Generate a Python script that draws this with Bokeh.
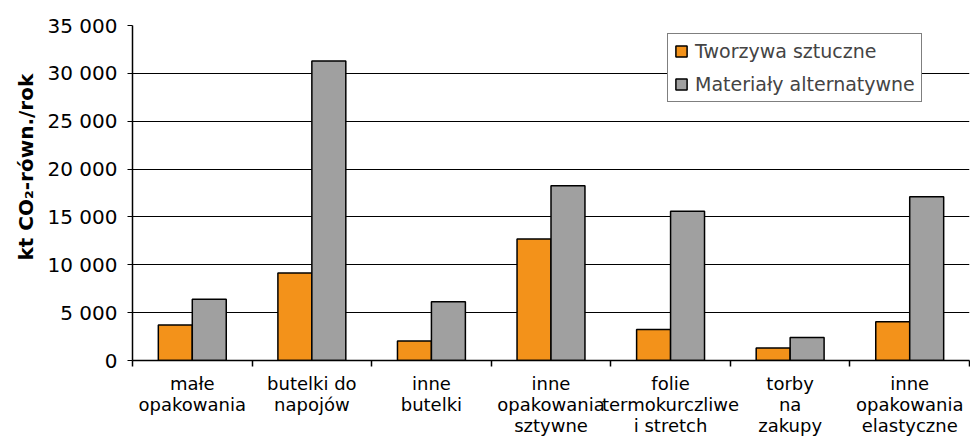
import numpy as np
from bokeh.plotting import figure
from bokeh.models import (Range1d, FixedTicker, ColumnDataSource, Legend, LegendItem, Title)
from bokeh.embed import file_html
from bokeh.resources import INLINE

# ---- data ----
categories = ["małe\nopakowania", "butelki do\nnapojów", "inne\nbutelki",
              "inne\nopakowania\nsztywne", "folie\ntermokurczliwe\ni stretch",
              "torby\nna\nzakupy", "inne\nopakowania\nelastyczne"]
plastics = [3700, 9150, 2050, 12700, 3250, 1300, 4050]
alternatives = [6400, 31300, 6150, 18250, 15600, 2400, 17100]
series_names = ["Tworzywa sztuczne", "Materiały alternatywne"]
y_ticks = [0, 5000, 10000, 15000, 20000, 25000, 30000, 35000]
y_tick_labels = ["0", "5 000", "10 000", "15 000", "20 000", "25 000", "30 000", "35 000"]
y_title = "kt CO₂-równ./rok"

FONT = "DejaVu Sans"
ORANGE = "#F3921A"
GRAY = "#A0A0A0"

n = len(categories)
centers = np.arange(n) + 0.5
bar_w = 0.284

src = ColumnDataSource(dict(
    xo=centers - bar_w / 2, xg=centers + bar_w / 2,
    plastics=plastics, alternatives=alternatives))

p = figure(width=970, height=438, output_backend="svg", toolbar_location=None,
           x_range=Range1d(0, n), y_range=Range1d(0, 35000),
           min_border_left=132, min_border_right=1, min_border_top=25,
           min_border_bottom=78)
p.outline_line_color = None
p.background_fill_color = "white"
p.border_fill_color = "white"

r1 = p.vbar(x="xo", top="plastics", width=bar_w, source=src,
            fill_color=ORANGE, line_color="black", line_width=1.5)
r2 = p.vbar(x="xg", top="alternatives", width=bar_w, source=src,
            fill_color=GRAY, line_color="black", line_width=1.5)

# y axis
p.yaxis.ticker = FixedTicker(ticks=y_ticks)
p.yaxis.major_label_overrides = {t: l for t, l in zip(y_ticks, y_tick_labels)}
p.yaxis.major_label_text_font = FONT
p.yaxis.major_label_text_font_size = "20px"
p.yaxis.major_label_text_color = "black"
p.yaxis.major_tick_out = 5
p.yaxis.major_tick_in = 0
p.yaxis.minor_tick_out = 0
p.yaxis.minor_tick_in = 0
p.yaxis.major_label_standoff = 10
p.yaxis.axis_line_color = "black"
p.yaxis.axis_line_width = 1.5
p.yaxis.major_tick_line_color = "black"

# x axis
p.xaxis.ticker = FixedTicker(ticks=list(centers), minor_ticks=list(range(n + 1)))
p.xaxis.major_label_overrides = {float(c): lab for c, lab in zip(centers, categories)}
p.xaxis.major_label_text_font = FONT
p.xaxis.major_label_text_font_size = "18px"
p.xaxis.major_label_text_line_height = 1.0
p.xaxis.major_label_text_color = "black"
p.xaxis.major_tick_out = 0
p.xaxis.major_tick_in = 0
p.xaxis.minor_tick_out = 6
p.xaxis.minor_tick_in = 0
p.xaxis.minor_tick_line_color = "black"
p.xaxis.minor_tick_line_width = 1.5
p.xaxis.major_label_standoff = 6
p.xaxis.axis_line_color = "black"
p.xaxis.axis_line_width = 1.5

# grid
p.xgrid.grid_line_color = None
p.ygrid.ticker = FixedTicker(ticks=y_ticks)
p.ygrid.grid_line_color = "black"
p.ygrid.grid_line_width = 1.2

# y title (vertical, left side)
ttl = Title(text=y_title, align="left", offset=100, vertical_align="middle",
            text_font=FONT, text_font_style="bold", text_font_size="20px",
            text_color="black", standoff=12)
p.add_layout(ttl, "left")

legend = Legend(items=[LegendItem(label=series_names[0], renderers=[r1]),
                       LegendItem(label=series_names[1], renderers=[r2])],
                location=(535, 258))
legend.label_text_font = FONT
legend.label_text_font_size = "19px"
legend.border_line_color = "black"
legend.border_line_width = 1
legend.background_fill_color = "white"
legend.background_fill_alpha = 1
legend.padding = 6
legend.spacing = 11
legend.margin = 0
legend.glyph_width = 14
legend.glyph_height = 14
legend.label_standoff = 7
legend.label_height = 20
p.add_layout(legend)

open("out.html", "w").write(file_html(p, INLINE))
